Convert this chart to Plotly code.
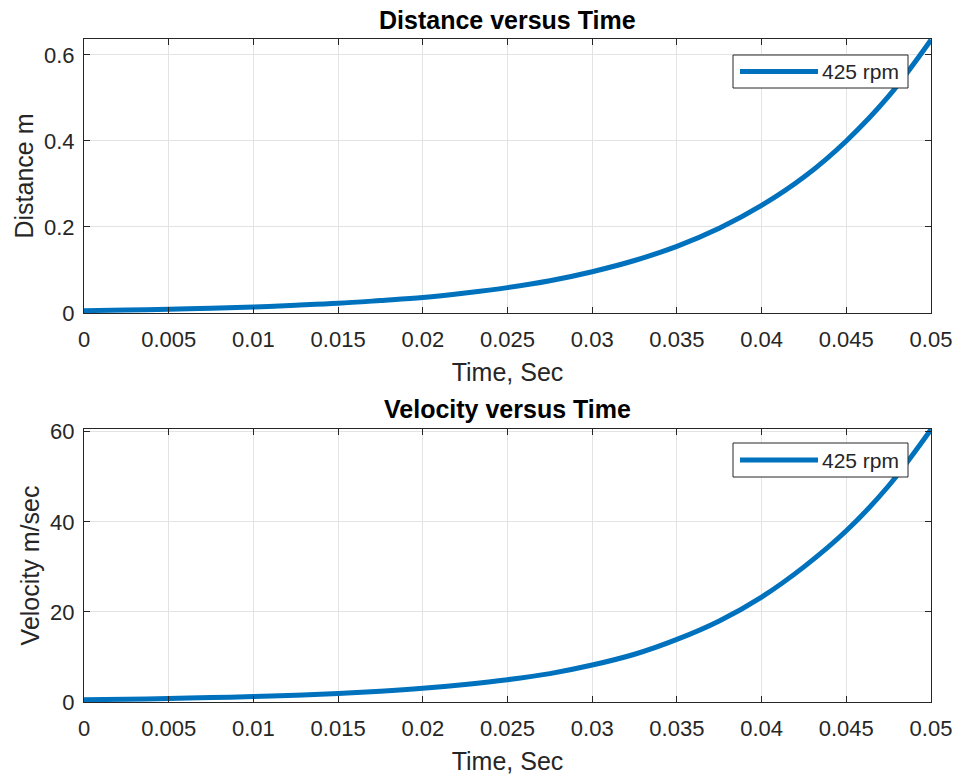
import plotly.graph_objects as go

# ---- data ----
time_s = [0.0, 0.0025, 0.005, 0.0075, 0.01, 0.0125, 0.015, 0.0175, 0.02, 0.0225,
          0.025, 0.0275, 0.03, 0.0325, 0.035, 0.0375, 0.04, 0.0425, 0.045, 0.0475, 0.05]
distance_m = [0.0055, 0.007, 0.0088, 0.011, 0.014, 0.018, 0.0225, 0.029, 0.036, 0.0465,
              0.059, 0.075, 0.096, 0.122, 0.155, 0.197, 0.250, 0.316, 0.400, 0.504, 0.635]
velocity_ms = [0.5, 0.62, 0.78, 0.98, 1.22, 1.52, 1.9, 2.4, 3.05, 3.9,
               4.95, 6.3, 8.2, 10.6, 13.9, 18.0, 23.3, 30.0, 38.0, 48.0, 60.5]
series_name = "425 rpm"

x_tickvals = [0, 0.005, 0.01, 0.015, 0.02, 0.025, 0.03, 0.035, 0.04, 0.045, 0.05]
x_ticktext = ["0", "0.005", "0.01", "0.015", "0.02", "0.025", "0.03", "0.035", "0.04", "0.045", "0.05"]
dist_tickvals = [0, 0.2, 0.4, 0.6]
dist_ticktext = ["0", "0.2", "0.4", "0.6"]
vel_tickvals = [0, 20, 40, 60]
vel_ticktext = ["0", "20", "40", "60"]

W, H = 960, 776
LINE_COLOR = "#0072BD"
AX_COLOR = "#262626"
GRID_COLOR = "#e3e3e3"
FONT = "Liberation Sans, Arial, sans-serif"

# plot area in pixels
L, R, T, B = 84, 931, 39, 702
PW, PH = R - L, B - T


def ypd(y):
    """pixel y -> domain fraction within plot area"""
    return (B - y) / PH


def px(x):
    return (x - L) / PW


fig = go.Figure()
fig.add_trace(go.Scatter(x=time_s, y=distance_m, mode="lines", name=series_name,
                         line=dict(color=LINE_COLOR, width=5, shape="spline"),
                         xaxis="x", yaxis="y", showlegend=False))
fig.add_trace(go.Scatter(x=time_s, y=velocity_ms, mode="lines", name=series_name,
                         line=dict(color=LINE_COLOR, width=5, shape="spline"),
                         xaxis="x2", yaxis="y2", showlegend=False))

top_dom = [ypd(313), 1.0]
bot_dom = [0.0, ypd(429)]

axis_common = dict(showline=True, linecolor=AX_COLOR, linewidth=1, mirror="ticks",
                   ticks="inside", ticklen=6, tickcolor=AX_COLOR, tickwidth=1,
                   showgrid=True, gridcolor=GRID_COLOR, gridwidth=1, zeroline=False,
                   automargin=False,
                   tickfont=dict(family=FONT, size=22, color=AX_COLOR))
title_font = dict(family=FONT, size=25, color=AX_COLOR)

fig.update_layout(
    width=W, height=H, margin=dict(l=L, r=W - R, t=T, b=H - B, pad=0),
    paper_bgcolor="white", plot_bgcolor="white",
    xaxis=dict(domain=[0, 1], anchor="y", range=[0, 0.05], tickvals=x_tickvals, ticktext=x_ticktext,
               ticklabelstandoff=7,
               title=dict(text="Time, Sec", font=title_font, standoff=12),
               **axis_common),
    yaxis=dict(domain=top_dom, anchor="x", range=[0, 0.637], tickvals=dist_tickvals, ticktext=dist_ticktext,
               ticklabelstandoff=4,
               title=dict(text="Distance m", font=title_font, standoff=3),
               **axis_common),
    xaxis2=dict(domain=[0, 1], anchor="y2", range=[0, 0.05], tickvals=x_tickvals, ticktext=x_ticktext,
                ticklabelstandoff=7,
                title=dict(text="Time, Sec", font=title_font, standoff=12),
                **axis_common),
    yaxis2=dict(domain=bot_dom, anchor="x2", range=[0, 60.6], tickvals=vel_tickvals, ticktext=vel_ticktext,
                ticklabelstandoff=4,
                title=dict(text="Velocity m/sec", font=title_font, standoff=3),
                **axis_common),
)

# subplot titles (paper coords relative to plot area)
for text, ycen in [("Distance versus Time", 20), ("Velocity versus Time", 409)]:
    fig.add_annotation(text=f"<b>{text}</b>", xref="paper", yref="paper",
                       x=0.5, y=ypd(ycen), xanchor="center", yanchor="middle",
                       showarrow=False, font=dict(family=FONT, size=25, color="#000000"))

# MATLAB-style legend boxes
for (top, bottom) in [(55, 88), (443, 477)]:
    mid = (top + bottom) / 2
    fig.add_shape(type="rect", xref="paper", yref="paper",
                  x0=px(733), x1=px(908), y0=ypd(bottom), y1=ypd(top),
                  line=dict(color=AX_COLOR, width=1), fillcolor="white", layer="above")
    fig.add_shape(type="line", xref="paper", yref="paper",
                  x0=px(740), x1=px(818), y0=ypd(mid), y1=ypd(mid),
                  line=dict(color=LINE_COLOR, width=5), layer="above")
    fig.add_annotation(text=series_name, xref="paper", yref="paper",
                       x=px(820), y=ypd(mid), xanchor="left", yanchor="middle",
                       showarrow=False, font=dict(family=FONT, size=21, color=AX_COLOR))

fig.write_html("out.html")
